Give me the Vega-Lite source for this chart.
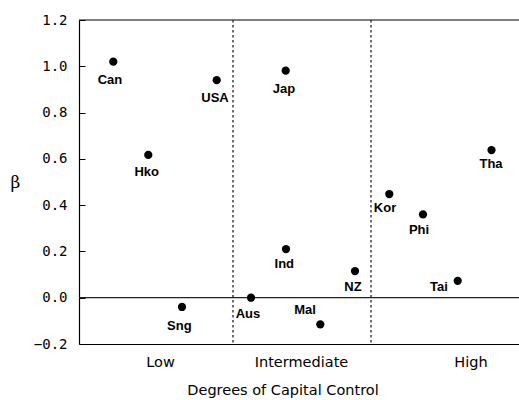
{
  "$schema": "https://vega.github.io/schema/vega-lite/v6.json",
  "width": 440,
  "height": 324,
  "autosize": {"type": "none"},
  "padding": {"left": 79, "top": 20, "right": 0, "bottom": 56},
  "background": "white",
  "config": {"view": {"stroke": null}, "font": "DejaVu Sans"},
  "datasets": {
    "countries": [
      {"country": "Can", "control": 3.43, "beta": 1.02, "lx": 3.1, "ly": 0.941},
      {"country": "USA", "control": 13.77, "beta": 0.94, "lx": 13.6, "ly": 0.863},
      {"country": "Hko", "control": 6.93, "beta": 0.617, "lx": 6.77, "ly": 0.543},
      {"country": "Sng", "control": 10.3, "beta": -0.04, "lx": 10.03, "ly": -0.121},
      {"country": "Aus", "control": 17.2, "beta": 0.0, "lx": 16.9, "ly": -0.07},
      {"country": "Jap", "control": 20.67, "beta": 0.981, "lx": 20.5, "ly": 0.902},
      {"country": "Ind", "control": 20.7, "beta": 0.21, "lx": 20.53, "ly": 0.146},
      {"country": "Mal", "control": 24.13, "beta": -0.115, "lx": 22.6, "ly": -0.053},
      {"country": "NZ", "control": 27.6, "beta": 0.115, "lx": 27.4, "ly": 0.048},
      {"country": "Kor", "control": 31.03, "beta": 0.448, "lx": 30.6, "ly": 0.389},
      {"country": "Phi", "control": 34.4, "beta": 0.36, "lx": 34.0, "ly": 0.293},
      {"country": "Tai", "control": 37.87, "beta": 0.073, "lx": 36.0, "ly": 0.048},
      {"country": "Tha", "control": 41.25, "beta": 0.638, "lx": 41.2, "ly": 0.578}
    ],
    "dividers": [{"control": 15.4}, {"control": 29.2}]
  },
  "layer": [
    {
      "data": {"values": [{}]},
      "mark": {"type": "rule", "color": "black", "strokeWidth": 1.2},
      "encoding": {"y": {"datum": 1.2, "type": "quantitative", "scale": {"domain": [-0.2, 1.2], "nice": false}}}
    },
    {
      "data": {"values": [{}]},
      "mark": {"type": "rule", "color": "#222222", "strokeWidth": 1.2},
      "encoding": {"y": {"datum": 0, "type": "quantitative"}}
    },
    {
      "data": {"name": "dividers"},
      "mark": {"type": "rule", "color": "#222222", "strokeWidth": 1.3, "strokeDash": [2.5, 2.5]},
      "encoding": {"x": {"field": "control", "type": "quantitative"}}
    },
    {
      "data": {"name": "countries"},
      "mark": {"type": "circle", "color": "black", "opacity": 1, "size": 68},
      "encoding": {
        "x": {
          "field": "control",
          "type": "quantitative",
          "scale": {"domain": [0, 44], "nice": false, "zero": false},
          "axis": {
            "orient": "bottom",
            "values": [8.1, 22.2, 39.15],
            "labelExpr": "datum.value < 15 ? 'Low' : (datum.value < 30 ? 'Intermediate' : 'High')",
            "ticks": false,
            "grid": false,
            "domainColor": "black",
            "domainWidth": 1.2,
            "labelColor": "black",
            "labelFont": "DejaVu Sans",
            "labelFontSize": 14.5,
            "labelPadding": 11,
            "labelFlush": false,
            "title": "Degrees of Capital Control",
            "titleFont": "DejaVu Sans",
            "titleFontSize": 14.5,
            "titleFontWeight": "normal",
            "titleColor": "black",
            "titleX": 203.5,
            "titleY": 46,
            "titleBaseline": "middle",
            "titleAlign": "center"
          }
        },
        "y": {
          "field": "beta",
          "type": "quantitative",
          "scale": {"domain": [-0.2, 1.2], "nice": false},
          "axis": {
            "values": [-0.2, 0, 0.2, 0.4, 0.6, 0.8, 1.0, 1.2],
            "format": ".1f",
            "grid": false,
            "tickSize": -6,
            "tickColor": "black",
            "domainColor": "black",
            "domainWidth": 1.2,
            "labelColor": "black",
            "labelFont": "DejaVu Sans Mono",
            "labelFontSize": 14,
            "labelPadding": 18,
            "title": "β",
            "titleAngle": 0,
            "titleFont": "DejaVu Serif",
            "titleFontSize": 17,
            "titleFontWeight": "normal",
            "titleColor": "black",
            "titleX": -64,
            "titleY": 162,
            "titleAlign": "center",
            "titleBaseline": "middle"
          }
        }
      }
    },
    {
      "data": {"name": "countries"},
      "mark": {"type": "text", "font": "Liberation Sans", "fontSize": 13, "fontWeight": "bold", "color": "black", "align": "center", "baseline": "middle"},
      "encoding": {
        "x": {"field": "lx", "type": "quantitative"},
        "y": {"field": "ly", "type": "quantitative"},
        "text": {"field": "country"}
      }
    }
  ]
}
